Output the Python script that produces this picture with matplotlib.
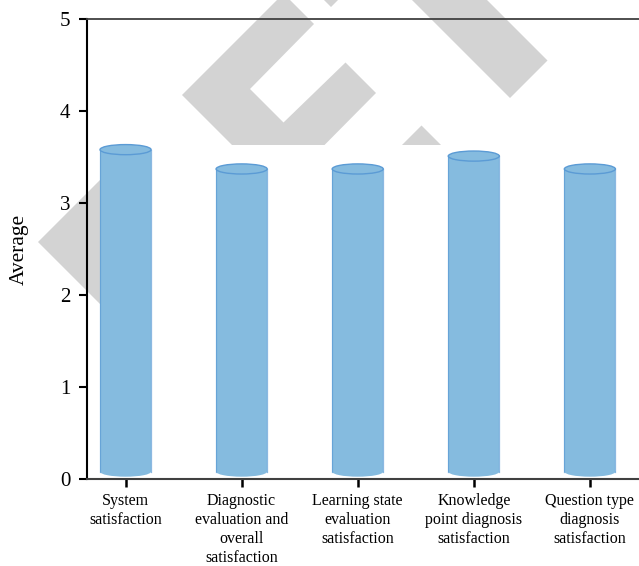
import matplotlib
matplotlib.use("Agg")
import matplotlib.pyplot as plt
from matplotlib.patches import Ellipse, Polygon, Rectangle

plt.rcParams["font.family"] = ["Liberation Serif", "DejaVu Serif"]

categories = [
    "System\nsatisfaction",
    "Diagnostic\nevaluation and\noverall\nsatisfaction",
    "Learning state\nevaluation\nsatisfaction",
    "Knowledge\npoint diagnosis\nsatisfaction",
    "Question type\ndiagnosis\nsatisfaction",
]
averages = [3.58, 3.37, 3.37, 3.51, 3.37]
y_ticks = [0, 1, 2, 3, 4, 5]

FILL = "#85bbdf"
EDGE = "#5b9bd5"
SHADE = "#d3d3d3"

# grey logo shapes behind the plot, in pixel space (y grows downward)
LOGO_SHAPES = [
    [(283.5, -6.5), (182, 95), (278.5, 191.5), (376, 93),
     (345.5, 62.5), (283.5, 122.5), (250, 89), (314, 24)],
    [(400, -12), (510, 98), (547.5, 60.5), (475, -12)],
    [(421.5, 125.5), (457, 161), (386, 161)],
    [(318, -6), (331, 7), (344, -6)],
    [(38, 242), (128, 152), (218, 242), (128, 332)],
]

W, H = 639, 566
fig = plt.figure(figsize=(W / 100, H / 100), dpi=100)

bg = fig.add_axes([0, 0, 1, 1], zorder=0)
bg.set_xlim(0, W)
bg.set_ylim(H, 0)
bg.axis("off")
for pts in LOGO_SHAPES:
    bg.add_patch(Polygon(pts, closed=True, facecolor=SHADE, edgecolor="none"))
# plot area panel covers the lower part of the logo
bg.add_patch(Rectangle((100, 145), W, H, facecolor="white", edgecolor="none"))

left, top, bottom = 87, 19, 479
ax = fig.add_axes([left / W, (H - bottom) / H, (W - left) / W, (bottom - top) / H],
                  zorder=1)
ax.set_facecolor("none")

width = 0.44
cap_h = 0.11
base = 0.08

for i, v in enumerate(averages):
    ax.add_patch(Rectangle((i - width / 2, base), width, v - base,
                           facecolor=FILL, edgecolor="none", zorder=2))
    ax.add_patch(Ellipse((i, base), width, cap_h, facecolor=FILL,
                         edgecolor="none", zorder=2))
    for xe in (i - width / 2, i + width / 2):
        ax.plot([xe, xe], [base, v], color=EDGE, lw=0.9, alpha=0.7, zorder=3)
    ax.add_patch(Ellipse((i, v), width, cap_h, facecolor=FILL,
                         edgecolor=EDGE, lw=1.0, zorder=4))

ax.set_xlim(-0.332, 4.423)
ax.set_ylim(0, 5)
ax.set_yticks(y_ticks)
ax.set_xticks(range(len(categories)))
ax.set_xticklabels(categories, fontsize=11.5, linespacing=1.25)
ax.tick_params(axis="y", labelsize=15, length=6, width=1.5, direction="out", pad=6)
ax.tick_params(axis="x", length=6, width=1.8, direction="out", pad=4)
ax.set_ylabel("Average", fontsize=15.5, labelpad=22)

ax.spines["right"].set_visible(False)
ax.spines["left"].set_linewidth(1.5)
ax.spines["left"].set_color("black")
ax.spines["bottom"].set_linewidth(1.5)
ax.spines["bottom"].set_color("#404040")
ax.spines["top"].set_linewidth(1.3)
ax.spines["top"].set_color("#404040")

fig.savefig("out.png", dpi=100)
